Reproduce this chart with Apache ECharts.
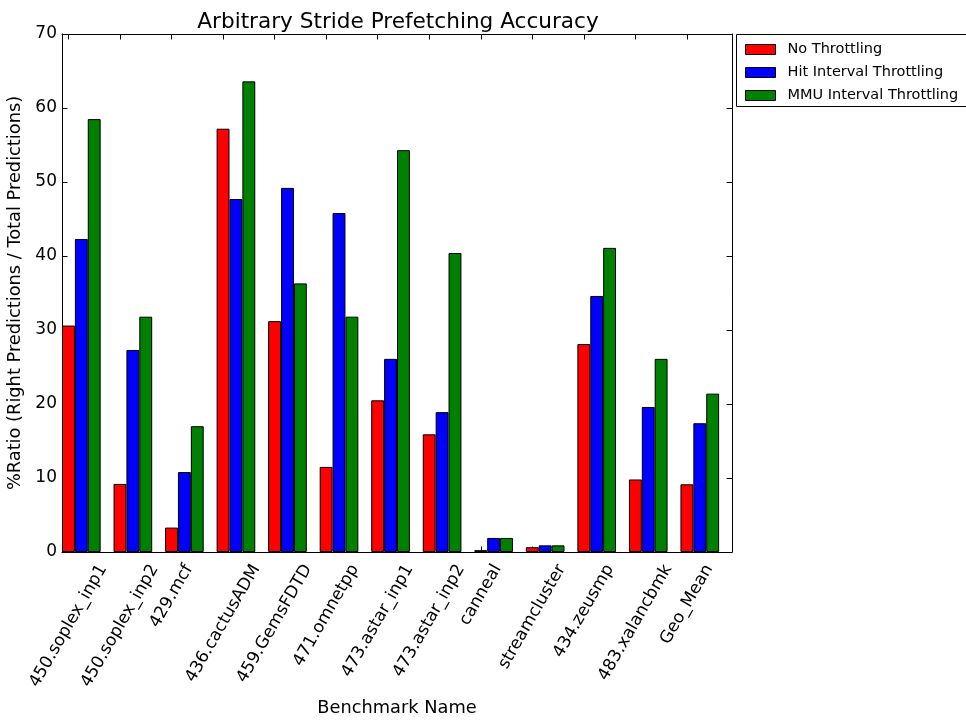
<!DOCTYPE html>
<html>
<head>
<meta charset="utf-8">
<title>Arbitrary Stride Prefetching Accuracy</title>
<script src="https://cdn.jsdelivr.net/npm/echarts@6/dist/echarts.min.js"></script>
<style>
  html, body { margin: 0; padding: 0; background: #fff; }
  #chart { width: 966px; height: 720px; }
</style>
</head>
<body>
<div id="chart"></div>
<script>
// Benchmarks along the x axis
const categories = [
  '450.soplex_inp1', '450.soplex_inp2', '429.mcf', '436.cactusADM',
  '459.GemsFDTD', '471.omnetpp', '473.astar_inp1', '473.astar_inp2',
  'canneal', 'streamcluster', '434.zeusmp', '483.xalancbmk', 'Geo_Mean'
];

// Series names (legend order)
const seriesNames = ['No Throttling', 'Hit Interval Throttling', 'MMU Interval Throttling'];

// Prefetch accuracy (%) per benchmark
const noThrottling  = [30.6,  9.2,  3.3, 57.2, 31.2, 11.5, 20.5, 15.9, 0.25, 0.65, 28.1,  9.8,  9.15];
const hitInterval   = [42.3, 27.3, 10.8, 47.7, 49.2, 45.8, 26.1, 18.9, 1.9,  0.9,  34.6, 19.6, 17.4];
const mmuInterval   = [58.5, 31.8, 17.0, 63.6, 36.3, 31.8, 54.3, 40.4, 1.9,  0.9,  41.1, 26.1, 21.4];

// Y axis tick values
const yTickValues = [0, 10, 20, 30, 40, 50, 60, 70];

const seriesColors = ['#ff0000', '#0000ff', '#008000'];
const seriesData = [noThrottling, hitInterval, mmuInterval];

// ---- layout ----
const FONT = '"DejaVu Sans", "Bitstream Vera Sans", sans-serif';
const TICK_FONT = 17;
const LABEL_FONT = 17.8;
const TITLE_FONT = 21.6;
const plot = { left: 62, top: 34, width: 670, height: 518 };
const slot = plot.width / categories.length;   // one benchmark slot
const yMin = yTickValues[0];
const yMax = yTickValues[yTickValues.length - 1];
const yStep = yTickValues[1] - yTickValues[0];

// Legend frame (runs past the right edge of the canvas)
const legendBox = { left: 736, top: 34, width: 260, height: 72 };

// Rotated category labels are centred horizontally on their tick, hanging
// below the axis; per-label padding moves each label's centre down by half
// of its rotated bounding-box height.
const LABEL_LH = 20;
const LABEL_PAD = 9;
const ROT = 60 * Math.PI / 180;
const measureCtx = document.createElement('canvas').getContext('2d');
measureCtx.font = TICK_FONT + 'px "DejaVu Sans"';
const labelRich = {};
categories.forEach(function (name, i) {
  const w = measureCtx.measureText(name).width;
  const d = (w * Math.sin(ROT) + LABEL_LH * Math.cos(ROT)) / 2 + LABEL_PAD;
  labelRich['c' + i] = {
    fontSize: TICK_FONT,
    fontFamily: FONT,
    color: '#000',
    lineHeight: LABEL_LH,
    padding: [d, 2 * d * Math.sin(ROT), 0, 0]
  };
});

const black = { color: '#000', width: 1 };
const tickStyle = { show: true, inside: true, length: 5.5, lineStyle: black };

function gridAt(offsetSlots) {
  return {
    left: plot.left - offsetSlots * slot,
    top: plot.top,
    width: plot.width,
    height: plot.height,
    containLabel: false,
    outerBoundsMode: 'none'
  };
}

const option = {
  backgroundColor: '#fff',
  animation: false,
  title: {
    text: 'Arbitrary Stride Prefetching Accuracy',
    left: plot.left + plot.width / 2 - 4,
    textAlign: 'center',
    top: 6,
    textStyle: { fontFamily: FONT, fontSize: TITLE_FONT, fontWeight: 'normal', color: '#000' }
  },
  graphic: [{
    type: 'rect',
    left: legendBox.left,
    top: legendBox.top,
    z: 1,
    silent: true,
    shape: { width: legendBox.width, height: legendBox.height },
    style: { fill: '#fff', stroke: '#000', lineWidth: 1 }
  }],
  legend: {
    data: seriesNames,
    orient: 'vertical',
    left: legendBox.left,
    top: legendBox.top,
    padding: [8, 10, 5, 9],
    itemWidth: 30,
    itemHeight: 10,
    itemGap: 8,
    icon: 'rect',
    selectedMode: false,
    z: 5,
    backgroundColor: 'transparent',
    borderWidth: 0,
    itemStyle: { borderColor: '#000', borderWidth: 1 },
    textStyle: { fontFamily: FONT, fontSize: 14.5, color: '#000', lineHeight: 13, padding: [0, 0, 0, 7] }
  },
  grid: [
    gridAt(0),       // frame, y axis
    gridAt(0.125),   // bars: group starts at the left of its slot
    gridAt(0.375)    // category ticks & labels under the first bar of each group
  ],
  xAxis: [
    {
      gridIndex: 0, type: 'value', min: 0, max: 1, position: 'bottom',
      axisLine: { show: true, onZero: false, lineStyle: black },
      axisTick: { show: false }, axisLabel: { show: false }, splitLine: { show: false },
      name: 'Benchmark Name', nameLocation: 'middle', nameGap: 147,
      nameTextStyle: { fontFamily: FONT, fontSize: LABEL_FONT, color: '#000' }
    },
    {
      gridIndex: 0, type: 'value', min: 0, max: 1, position: 'top',
      axisLine: { show: true, onZero: false, lineStyle: black },
      axisTick: { show: false }, axisLabel: { show: false }, splitLine: { show: false }
    },
    {
      gridIndex: 1, type: 'category', data: categories, boundaryGap: true, show: false
    },
    {
      gridIndex: 2, type: 'category', data: categories, boundaryGap: true, position: 'bottom',
      axisLine: { show: false, onZero: false },
      axisTick: Object.assign({ alignWithLabel: true, interval: 0 }, tickStyle),
      splitLine: { show: false },
      axisLabel: {
        show: true, interval: 0, rotate: 60, margin: 0,
        align: 'center', verticalAlign: 'middle', hideOverlap: false,
        formatter: function (value, idx) { return '{c' + idx + '|' + value + '}'; },
        rich: labelRich
      }
    },
    {
      gridIndex: 2, type: 'category', data: categories, boundaryGap: true, position: 'top',
      axisLine: { show: false, onZero: false },
      axisTick: Object.assign({ alignWithLabel: true, interval: 0 }, tickStyle),
      axisLabel: { show: false }, splitLine: { show: false }
    }
  ],
  yAxis: [
    {
      gridIndex: 0, type: 'value', min: yMin, max: yMax, interval: yStep, position: 'left',
      axisLine: { show: true, onZero: false, lineStyle: black },
      axisTick: tickStyle,
      splitLine: { show: false },
      axisLabel: { show: true, margin: 5, fontFamily: FONT, fontSize: TICK_FONT, color: '#000' },
      name: '%Ratio (Right Predictions / Total Predictions)',
      nameLocation: 'middle', nameGap: 30,
      nameTextStyle: { fontFamily: FONT, fontSize: LABEL_FONT, color: '#000' }
    },
    {
      gridIndex: 0, type: 'value', min: yMin, max: yMax, interval: yStep, position: 'right',
      axisLine: { show: true, onZero: false, lineStyle: black },
      axisTick: tickStyle,
      splitLine: { show: false }, axisLabel: { show: false }
    },
    {
      gridIndex: 1, type: 'value', min: yMin, max: yMax, interval: yStep, show: false
    },
    {
      gridIndex: 2, type: 'value', min: yMin, max: yMax, interval: yStep, show: false
    }
  ],
  series: seriesNames.map(function (name, k) {
    return {
      type: 'bar',
      name: name,
      data: seriesData[k],
      xAxisIndex: 2,
      yAxisIndex: 2,
      barGap: '0%',
      barCategoryGap: '25%',
      itemStyle: { color: seriesColors[k], borderColor: '#000', borderWidth: 1 },
      emphasis: { disabled: true }
    };
  })
};

const chart = echarts.init(document.getElementById('chart'), null, { renderer: 'canvas' });
chart.setOption(option);
</script>
</body>
</html>
